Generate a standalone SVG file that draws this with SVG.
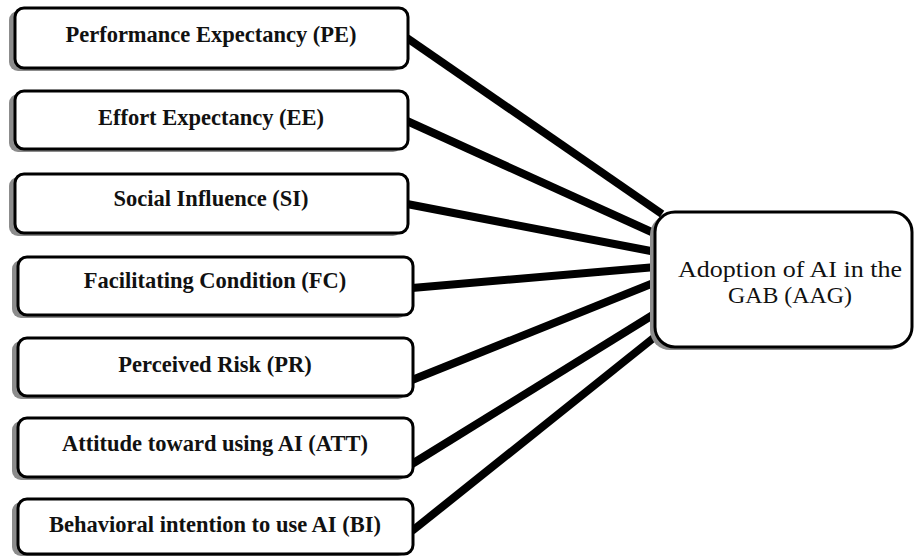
<svg xmlns="http://www.w3.org/2000/svg" width="915" height="557" viewBox="0 0 915 557">
<style>
.shadow{fill:#8c8c8c;}
.box{fill:#ffffff;stroke:#000000;stroke-width:3;}
.lbl{font-family:"Liberation Serif","Times New Roman",serif;font-weight:bold;font-size:22.5px;fill:#111;text-anchor:middle;}
.lbl2{font-family:"Liberation Serif","Times New Roman",serif;font-size:23px;fill:#111;text-anchor:middle;}
.conn{stroke:#000000;stroke-width:8;stroke-linecap:butt;fill:none;}
</style>
<rect width="915" height="557" fill="#ffffff"/>
<g id="connectors">
<line class="conn" x1="407" y1="38" x2="662" y2="214"/>
<line class="conn" x1="407" y1="121" x2="656" y2="234"/>
<line class="conn" x1="407" y1="204" x2="656" y2="252"/>
<line class="conn" x1="412" y1="288" x2="656" y2="267"/>
<line class="conn" x1="412" y1="380" x2="656" y2="282"/>
<line class="conn" x1="412" y1="464" x2="656" y2="313"/>
<line class="conn" x1="412" y1="531" x2="656" y2="336"/>
</g>
<g id="PE">
<rect class="shadow" x="9" y="11" width="393" height="60" rx="9"/>
<rect class="box" x="15" y="8" width="393" height="60" rx="9"/>
<text class="lbl" x="211" y="42">Performance Expectancy (PE)</text>
</g>
<g id="EE">
<rect class="shadow" x="9" y="94" width="393" height="58" rx="9"/>
<rect class="box" x="15" y="91" width="393" height="58" rx="9"/>
<text class="lbl" x="211" y="125">Effort Expectancy (EE)</text>
</g>
<g id="SI">
<rect class="shadow" x="9" y="177" width="393" height="59" rx="9"/>
<rect class="box" x="15" y="174" width="393" height="59" rx="9"/>
<text class="lbl" x="211" y="206">Social Influence (SI)</text>
</g>
<g id="FC">
<rect class="shadow" x="12" y="260" width="395" height="58" rx="9"/>
<rect class="box" x="18" y="257" width="395" height="58" rx="9"/>
<text class="lbl" x="215" y="288">Facilitating Condition (FC)</text>
</g>
<g id="PR">
<rect class="shadow" x="12" y="341" width="395" height="58" rx="9"/>
<rect class="box" x="18" y="338" width="395" height="58" rx="9"/>
<text class="lbl" x="215" y="372">Perceived Risk (PR)</text>
</g>
<g id="ATT">
<rect class="shadow" x="12" y="421" width="395" height="59" rx="9"/>
<rect class="box" x="18" y="418" width="395" height="59" rx="9"/>
<text class="lbl" x="215" y="451">Attitude toward using AI (ATT)</text>
</g>
<g id="BI">
<rect class="shadow" x="12" y="502" width="395" height="54" rx="9"/>
<rect class="box" x="18" y="499" width="395" height="55" rx="9"/>
<text class="lbl" x="215" y="532">Behavioral intention to use AI (BI)</text>
</g>
<g id="AAG">
<rect class="shadow" x="650" y="215" width="258" height="135" rx="20"/>
<rect class="box" x="655" y="212" width="257" height="135" rx="20"/>
<text class="lbl2" x="790" y="277" textLength="224" lengthAdjust="spacingAndGlyphs">Adoption of AI in the</text>
<text class="lbl2" x="790" y="303" textLength="124" lengthAdjust="spacingAndGlyphs">GAB (AAG)</text>
</g>
</svg>
